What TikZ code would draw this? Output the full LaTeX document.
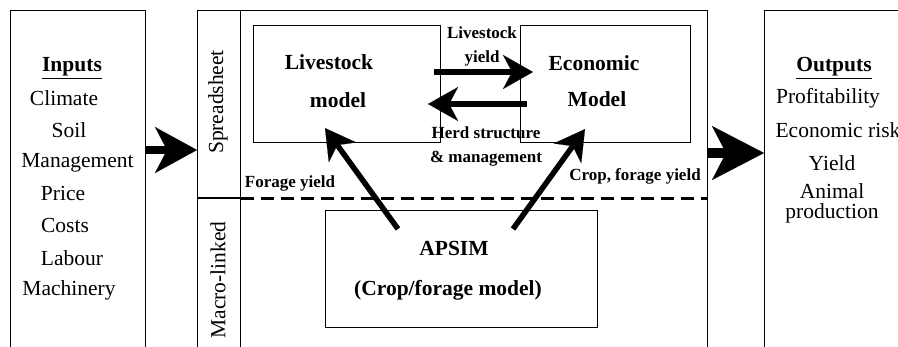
\documentclass[tikz,border=0pt]{standalone}
\usepackage{fontspec}
\setmainfont{Liberation Serif}
\usetikzlibrary{arrows.meta,calc}
\begin{document}
\begin{tikzpicture}[x=1pt,y=-1pt,
  box/.style={draw, line width=1.1pt, inner sep=0pt, anchor=north west},
  txt/.style={font=\fontsize{21.5}{24}\selectfont, inner sep=0pt},
  btxt/.style={font=\fontsize{21.5}{24}\selectfont\bfseries, inner sep=0pt},
  lbl/.style={font=\fontsize{17}{24}\selectfont\bfseries, inner sep=0pt, align=center},
  vtxt/.style={font=\fontsize{21.5}{24}\selectfont, inner sep=0pt, rotate=90},
  midarrow/.style={line width=5.5pt, -{Stealth[length=30pt,width=34pt,inset=9pt,line width=0.1pt]}},
  bigarrowA/.style={line width=8pt, -{Stealth[length=42pt,width=46pt,inset=12pt,line width=0.1pt]}},
  bigarrowB/.style={line width=10pt, -{Stealth[length=52pt,width=54pt,inset=14pt,line width=0.1pt]}},
  dashline/.style={line width=3pt, dash pattern=on 13pt off 7pt},
]
\useasboundingbox (0,0) rectangle (898,346);
\clip (0,0) rectangle (898,346);
% frames
\node[box, minimum width=135pt, minimum height=370pt] (inbox) at (10,10) {};
\node[box, minimum width=510pt, minimum height=370pt] (frame) at (197,10) {};
\node[box, minimum width=43pt, minimum height=370pt] (strip) at (197,10) {};
\node[box, minimum width=200pt, minimum height=370pt] (outbox) at (764,10) {};
% inner boxes
\node[box, minimum width=187pt, minimum height=117pt] (ls) at (253,25) {};
\node[box, minimum width=170pt, minimum height=117pt] (ec) at (520,25) {};
\node[box, minimum width=272pt, minimum height=117pt] (ap) at (325,210) {};
% dividers
\coordinate (ydiv) at (0,198);
\draw[line width=1.1pt] (strip.west |- ydiv) -- (strip.east |- ydiv);
\draw[dashline] (strip.east |- ydiv) -- (frame.east |- ydiv);
% strip labels
\node[vtxt] (spread) at (218,102) {Spreadsheet};
\node[vtxt] (macro) at (218,280) {Macro-linked};
% inputs
\node[btxt] (inh) at (72,68) {\underline{Inputs}};
\node[txt] (in1) at (64,98) {Climate};
\node[txt] (in2) at (69,130) {Soil};
\node[txt] (in3) at (77.5,163) {Management};
\node[txt] (in4) at (63,193) {Price};
\node[txt] (in5) at (65,225) {Costs};
\node[txt] (in6) at (72,258) {Labour};
\node[txt] (in7) at (69,290) {Machinery};
% outputs
\node[btxt] (outh) at (834,68) {\underline{Outputs}};
\node[txt] (out1) at (828,98) {Profitability};
\node[txt] (out2) at (838,130) {Economic risk};
\node[txt] (out3) at (832,163) {Yield};
\node[txt, align=center, font=\fontsize{21.5}{20}\selectfont] (out4) at (832,203) {Animal\\production};
% box texts
\node[btxt] (lst1) at (329,62) {Livestock};
\node[btxt] (lst2) at (338,100) {model};
\node[btxt] (ect1) at (594,63) {Economic};
\node[btxt] (ect2) at (597,99) {Model};
\node[btxt] (apt1) at (454,248) {APSIM};
\node[btxt] (apt2) at (448,290) {(Crop/forage model)};
% labels
\node[lbl] (l1) at (482,46) {Livestock\\yield};
\node[lbl] (l2) at (486,146) {Herd structure\\\& management};
\node[lbl] (l3) at (290,183) {Forage yield};
\node[lbl] (l4) at (635,176) {Crop, forage yield};
% arrows
\coordinate (ya) at (0,150);
\coordinate (yb) at (0,153);
\draw[bigarrowA] (inbox.east |- ya) -- (frame.west |- ya);
\draw[bigarrowB] (frame.east |- yb) -- (outbox.west |- yb);
\draw[midarrow] ($(ls.north east)+(-7,47)$) -- ($(ec.north west)+(13,47)$);
\draw[midarrow] ($(ec.north west)+(7,79)$) -- ($(ls.north east)+(-13,79)$);
\draw[midarrow] ($(ap.north west)+(73,19)$) -- ($(ls.south west)+(72,-15)$);
\draw[midarrow] ($(ap.north west)+(188,19)$) -- ($(ec.south west)+(65,-14)$);
\end{tikzpicture}
\end{document}
